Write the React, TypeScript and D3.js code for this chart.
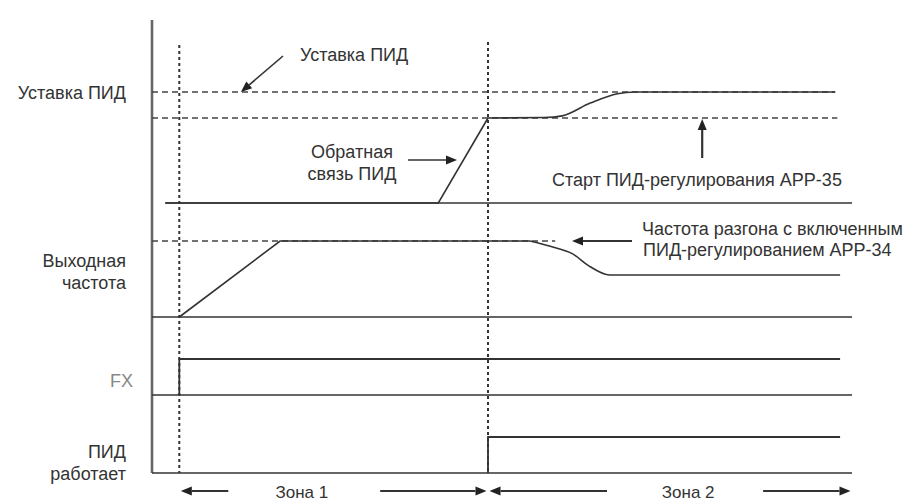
import React from "react";
import * as d3 from "d3";

// ---- data (time in % of the diagram width, levels normalised per panel) ----
const timeMarkers = [3.9, 48];
const setpointLevel = 1;
const startPidLevel = 0.766;
const accelLevel = 1;

const feedbackRamp: [number, number][] = [
  [1.9, 0],
  [40.9, 0],
  [48, 0.766],
];
const feedbackSettle: [number, number][] = [
  [48, 0.766],
  [56, 0.77],
  [58.6, 0.785],
  [62.6, 0.9],
  [66.5, 0.985],
  [69, 1],
  [97.6, 1],
];
const outputRamp: [number, number][] = [
  [3.9, 0],
  [18.3, 1],
  [54, 1],
];
const outputSettle: [number, number][] = [
  [54, 1],
  [56.9, 0.93],
  [60.1, 0.83],
  [62.3, 0.68],
  [65.4, 0.553],
  [98.3, 0.553],
];
const fxSignal: [number, number][] = [
  [3.9, 0],
  [3.9, 1],
  [98.3, 1],
];
const pidSignal: [number, number][] = [
  [48, 0],
  [48, 1],
  [98.3, 1],
];
const baselines = [
  { panel: 0, from: 1.9, to: 100 },
  { panel: 1, from: 0, to: 100 },
  { panel: 2, from: 0, to: 100 },
  { panel: 3, from: 0, to: 100 },
];
const dashedRefs = [
  { panel: 0, level: setpointLevel, to: 97.6 },
  { panel: 0, level: startPidLevel, to: 97.9 },
  { panel: 1, level: accelLevel, to: 57.6 },
];
const rowLabels = [
  { panel: 0, lines: ["Уставка ПИД"], level: 1, grey: false },
  { panel: 1, lines: ["Выходная", "частота"], level: 0.6, grey: false },
  { panel: 2, lines: ["FX"], level: 0.4, grey: true },
  { panel: 3, lines: ["ПИД", "работает"], level: 0.3, grey: false },
];
const zoneLabels = [
  { text: "Зона 1", from: 3.9, to: 48, mid: 21.4, gapL: 10.9, gapR: 32.6 },
  { text: "Зона 2", from: 48, to: 100, mid: 76.6, gapL: 65.0, gapR: 87.3 },
];

// ---- layout ----
const W = 912;
const H = 503;
const x = d3.scaleLinear().domain([0, 100]).range([152, 852]);
const panels = [
  d3.scaleLinear().domain([0, 1]).range([203, 92]),
  d3.scaleLinear().domain([0, 1]).range([317, 241]),
  d3.scaleLinear().domain([0, 1]).range([395, 359]),
  d3.scaleLinear().domain([0, 1]).range([473, 437]),
];
const INK = "#333";
const FONT = "'Liberation Sans', Arial, sans-serif";

const lin = (p: number) =>
  d3
    .line<[number, number]>()
    .x((d) => x(d[0]))
    .y((d) => panels[p](d[1]))
    .curve(d3.curveLinear);
const smooth = (p: number) =>
  d3
    .line<[number, number]>()
    .x((d) => x(d[0]))
    .y((d) => panels[p](d[1]))
    .curve(d3.curveMonotoneX);

function Arrow({ x1, y1, x2, y2, w = 1.6 }: { x1: number; y1: number; x2: number; y2: number; w?: number }) {
  const a = Math.atan2(y2 - y1, x2 - x1);
  const L = 11;
  const hw = 4.5;
  const bx = x2 - L * Math.cos(a);
  const by = y2 - L * Math.sin(a);
  const px = -Math.sin(a) * hw;
  const py = Math.cos(a) * hw;
  return (
    <g>
      <line x1={x1} y1={y1} x2={bx} y2={by} stroke={INK} strokeWidth={w} />
      <path d={`M${x2},${y2}L${bx + px},${by + py}L${bx - px},${by - py}Z`} fill="#222" />
    </g>
  );
}

export default function App() {
  const zoneY = 491;
  return (
    <div style={{ position: "fixed", left: 0, top: 0, width: W, height: H, background: "#fff" }}>
      <svg width={W} height={H} style={{ display: "block" }} fontFamily={FONT}>
        <rect width={W} height={H} fill="#fff" />
        {/* vertical axis */}
        <line x1={x(0)} y1={20} x2={x(0)} y2={473} stroke="#666" strokeWidth={2.6} />

        {/* dashed reference levels */}
        {dashedRefs.map((d, i) => (
          <line
            key={"dr" + i}
            x1={x(0)}
            x2={x(d.to)}
            y1={panels[d.panel](d.level)}
            y2={panels[d.panel](d.level)}
            stroke="#444"
            strokeWidth={1.4}
            strokeDasharray="6,4"
          />
        ))}

        {/* baselines */}
        {baselines.map((b, i) => (
          <line
            key={"bl" + i}
            x1={x(b.from)}
            x2={x(b.to)}
            y1={panels[b.panel](0)}
            y2={panels[b.panel](0)}
            stroke={INK}
            strokeWidth={1.6}
          />
        ))}

        {/* time markers */}
        {timeMarkers.map((t, i) => (
          <line
            key={"tm" + i}
            x1={x(t)}
            x2={x(t)}
            y1={i === 0 ? 45 : 42}
            y2={473}
            stroke="#333"
            strokeWidth={2}
            strokeDasharray="3,3"
          />
        ))}

        {/* signals */}
        <path d={lin(0)(feedbackRamp) || ""} fill="none" stroke={INK} strokeWidth={1.6} />
        <path d={smooth(0)(feedbackSettle) || ""} fill="none" stroke={INK} strokeWidth={1.6} />
        <path d={lin(1)(outputRamp) || ""} fill="none" stroke={INK} strokeWidth={1.6} />
        <path d={smooth(1)(outputSettle) || ""} fill="none" stroke={INK} strokeWidth={1.6} />
        <path d={lin(2)(fxSignal) || ""} fill="none" stroke={INK} strokeWidth={1.8} />
        <path d={lin(3)(pidSignal) || ""} fill="none" stroke={INK} strokeWidth={1.8} />

        {/* row labels */}
        {rowLabels.map((r, i) => {
          const yc = panels[r.panel](r.level);
          const n = r.lines.length;
          return (
            <text
              key={"rl" + i}
              textAnchor="end"
              fontSize={18}
              fill={r.grey ? "#888" : INK}
              x={r.grey ? 133 : 126}
            >
              {r.lines.map((ln, j) => (
                <tspan key={j} x={r.grey ? 133 : 126} y={yc + 6.5 + (j - (n - 1) / 2) * 22}>
                  {ln}
                </tspan>
              ))}
            </text>
          );
        })}

        {/* annotations */}
        <text x={300} y={61} fontSize={18} fill={INK}>Уставка ПИД</text>
        <Arrow x1={283} y1={56} x2={x(12.7)} y2={panels[0](setpointLevel)} />

        <text x={352} y={158} fontSize={18} fill={INK} textAnchor="middle">Обратная</text>
        <text x={352} y={180} fontSize={18} fill={INK} textAnchor="middle">связь ПИД</text>
        <Arrow x1={408} y1={160} x2={457} y2={160} />

        <text x={552} y={186} fontSize={18} fill={INK}>Старт ПИД-регулирования APP-35</text>
        <Arrow x1={x(78.6)} y1={158} x2={x(78.6)} y2={panels[0](startPidLevel) + 1} w={2.2} />

        <text x={642} y={235} fontSize={18} fill={INK}>Частота разгона с включенным</text>
        <text x={643} y={256} fontSize={18} fill={INK}>ПИД-регулированием APP-34</text>
        <Arrow x1={632} y1={panels[1](accelLevel)} x2={x(60)} y2={panels[1](accelLevel)} w={2} />

        {/* zones */}
        {zoneLabels.map((z, i) => (
          <g key={"z" + i}>
            <Arrow x1={x(z.gapL)} y1={zoneY} x2={x(z.from) + 1.5} y2={zoneY} w={2} />
            <Arrow x1={x(z.gapR)} y1={zoneY} x2={x(z.to) - 1.5} y2={zoneY} w={2} />
            <text x={x(z.mid)} y={498} fontSize={17} fill={INK} textAnchor="middle">
              {z.text}
            </text>
          </g>
        ))}
      </svg>
    </div>
  );
}
